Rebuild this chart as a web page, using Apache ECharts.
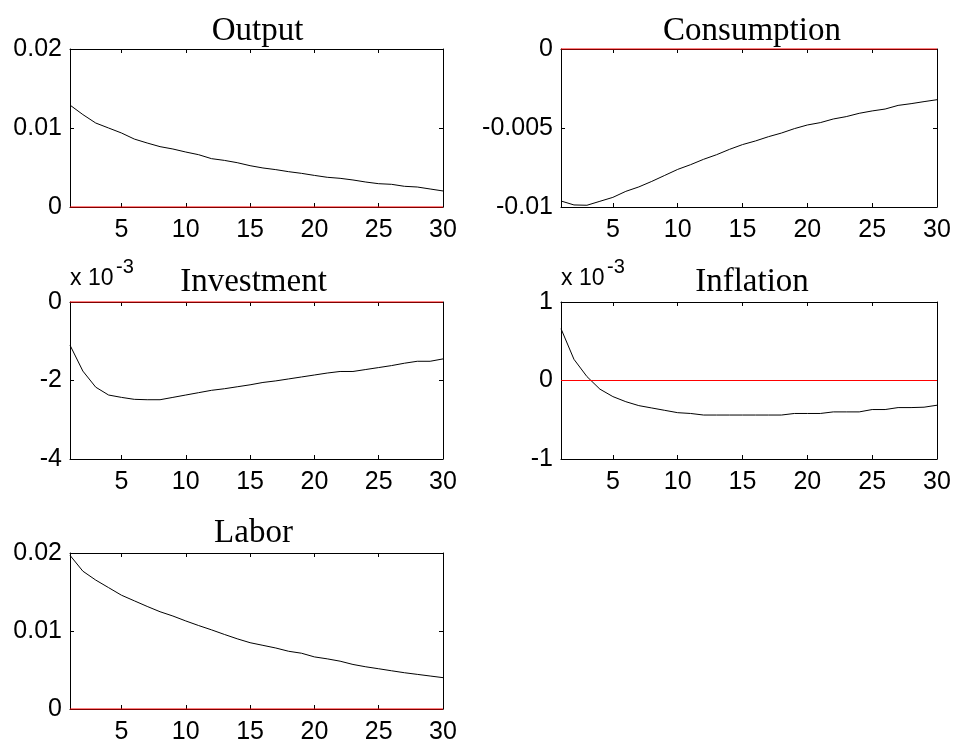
<!DOCTYPE html>
<html>
<head>
<meta charset="utf-8">
<script src="https://cdn.jsdelivr.net/npm/echarts@6/dist/echarts.min.js"></script>
<style>
  html, body { margin: 0; padding: 0; background: #fff; }
  #chart { width: 954px; height: 745px; }
</style>
</head>
<body>
<div id="chart"></div>
<script>
// ---- data ----
const periods = [1,2,3,4,5,6,7,8,9,10,11,12,13,14,15,16,17,18,19,20,21,22,23,24,25,26,27,28,29,30];
const titles = ['Output', 'Consumption', 'Investment', 'Inflation', 'Labor'];
const xTickValues = [5, 10, 15, 20, 25, 30];
const zeroLevel = 0;

const output = [0.0129, 0.0117, 0.01063, 0.0100, 0.00937, 0.0086, 0.0081, 0.00764, 0.00734, 0.00696,
                0.00662, 0.00612, 0.0059, 0.00561, 0.00523, 0.00494, 0.00473, 0.00447, 0.00426, 0.0040,
                0.00376, 0.00363, 0.00342, 0.00316, 0.00295, 0.00287, 0.00262, 0.00253, 0.00228, 0.00203];
const consumption = [-0.00962, -0.00987, -0.00989, -0.00964, -0.00939, -0.00901, -0.00873, -0.00838, -0.0080, -0.00762,
                     -0.00732, -0.00698, -0.00669, -0.00635, -0.00605, -0.00582, -0.00555, -0.00532, -0.00504, -0.00481,
                     -0.00466, -0.00443, -0.00428, -0.00407, -0.00392, -0.0038, -0.00357, -0.00346, -0.00333, -0.00321];
const investment = [-0.00110, -0.00176, -0.00217, -0.00237, -0.00243, -0.00248, -0.00249, -0.00249, -0.00243, -0.00237,
                    -0.00231, -0.00225, -0.00221, -0.00216, -0.00211, -0.00205, -0.00201, -0.00196, -0.00191, -0.00186,
                    -0.00181, -0.00177, -0.00177, -0.00172, -0.00167, -0.00162, -0.00156, -0.00151, -0.00151, -0.00145];
const inflation = [0.00066, 0.00027, 0.00005, -0.00011, -0.000205, -0.00027, -0.00032, -0.00035, -0.00038, -0.00041,
                   -0.00042, -0.00044, -0.00044, -0.00044, -0.00044, -0.00044, -0.00044, -0.00044, -0.00042, -0.00042,
                   -0.00042, -0.00040, -0.00040, -0.00040, -0.00037, -0.00037, -0.000345, -0.000345, -0.00034, -0.000315];
const labor = [0.0197, 0.01767, 0.01653, 0.01556, 0.01459, 0.01387, 0.01315, 0.01247, 0.01192, 0.01129,
               0.0107, 0.01015, 0.00956, 0.0090, 0.0085, 0.00816, 0.00782, 0.0074, 0.00715, 0.00668,
               0.00643, 0.00613, 0.00571, 0.00541, 0.00516, 0.0049, 0.00465, 0.00444, 0.00423, 0.00402];

const seriesValues = [output, consumption, investment, inflation, labor];
const yMin = [0, -0.01, -0.004, -0.001, 0];
const yMax = [0.02, 0, 0, 0.001, 0.02];
const yStep = [0.01, 0.005, 0.002, 0.001, 0.01];
const yScale = [1, 1, 1e-3, 1e-3, 1];   // displayed as multiples of this

// ---- layout ----
const grids = [
  { left: 70,  top: 49,  width: 373, height: 158 },
  { left: 561, top: 49,  width: 376, height: 158 },
  { left: 70,  top: 302, width: 373, height: 157 },
  { left: 561, top: 302, width: 376, height: 157 },
  { left: 70,  top: 553, width: 373, height: 158 }
];
const titleTop = [10, 10, 261, 261, 512];
const titleShift = [-4, -2, -8, -2, -8];

const tickFont = { fontFamily: 'Liberation Sans, Arial, sans-serif', fontSize: 25, color: '#000' };
const boxLine = { show: true, onZero: false, lineStyle: { color: '#000', width: 1 } };
const tickStyle = { show: true, inside: true, length: 4, lineStyle: { color: '#000', width: 1 } };

function fmt(v, s) {
  const r = v / s;
  return String(parseFloat(r.toPrecision(6)));
}

const option = { animation: false, backgroundColor: '#fff', grid: [], xAxis: [], yAxis: [], series: [], title: [], graphic: [] };

grids.forEach((g, i) => {
  option.grid.push(Object.assign({ show: false, containLabel: false }, g));
  option.xAxis.push({
    type: 'value', gridIndex: i, min: 1, max: 30, position: 'bottom',
    axisLine: boxLine,
    axisTick: Object.assign({ customValues: xTickValues }, tickStyle),
    axisLabel: Object.assign({ show: true, margin: 11, customValues: xTickValues }, tickFont),
    splitLine: { show: false }
  });
  option.xAxis.push({
    type: 'value', gridIndex: i, min: 1, max: 30, position: 'top',
    axisLine: boxLine,
    axisTick: Object.assign({ customValues: xTickValues }, tickStyle),
    axisLabel: { show: false, customValues: xTickValues },
    splitLine: { show: false }
  });
  const s = yScale[i];
  option.yAxis.push({
    type: 'value', gridIndex: i, min: yMin[i], max: yMax[i], interval: yStep[i], position: 'left',
    axisLine: boxLine,
    axisTick: tickStyle,
    axisLabel: Object.assign({ show: true, margin: 8, formatter: v => fmt(v, s) }, tickFont),
    splitLine: { show: false }
  });
  option.yAxis.push({
    type: 'value', gridIndex: i, min: yMin[i], max: yMax[i], interval: yStep[i], position: 'right',
    axisLine: boxLine,
    axisTick: tickStyle,
    axisLabel: { show: false },
    splitLine: { show: false }
  });
  option.series.push({
    type: 'line', xAxisIndex: 2 * i, yAxisIndex: 2 * i,
    data: periods.map((p, k) => [p, seriesValues[i][k]]),
    showSymbol: false, symbol: 'none', silent: true,
    lineStyle: { color: '#000', width: 1 }, z: 3
  });
  option.series.push({
    type: 'line', xAxisIndex: 2 * i, yAxisIndex: 2 * i,
    data: [[periods[0], zeroLevel], [periods[periods.length - 1], zeroLevel]],
    showSymbol: false, symbol: 'none', silent: true, clip: false,
    lineStyle: { color: '#ff0000', width: 1 }, z: 4
  });
  option.title.push({
    text: titles[i],
    left: g.left + g.width / 2 + titleShift[i], top: titleTop[i], textAlign: 'center',
    textStyle: { fontFamily: 'Liberation Serif, Times New Roman, serif', fontSize: 33, fontWeight: 'normal', color: '#000' }
  });
  if (s !== 1) {
    option.graphic.push({
      type: 'text', left: g.left, top: g.top - 35,
      style: { text: 'x 10', font: '23px "Liberation Sans", Arial, sans-serif', fill: '#000' }
    });
    option.graphic.push({
      type: 'text', left: g.left + 46, top: g.top - 45,
      style: { text: '-3', font: '20px "Liberation Sans", Arial, sans-serif', fill: '#000' }
    });
  }
});

const chart = echarts.init(document.getElementById('chart'), null, { renderer: 'canvas' });
chart.setOption(option);
</script>
</body>
</html>
